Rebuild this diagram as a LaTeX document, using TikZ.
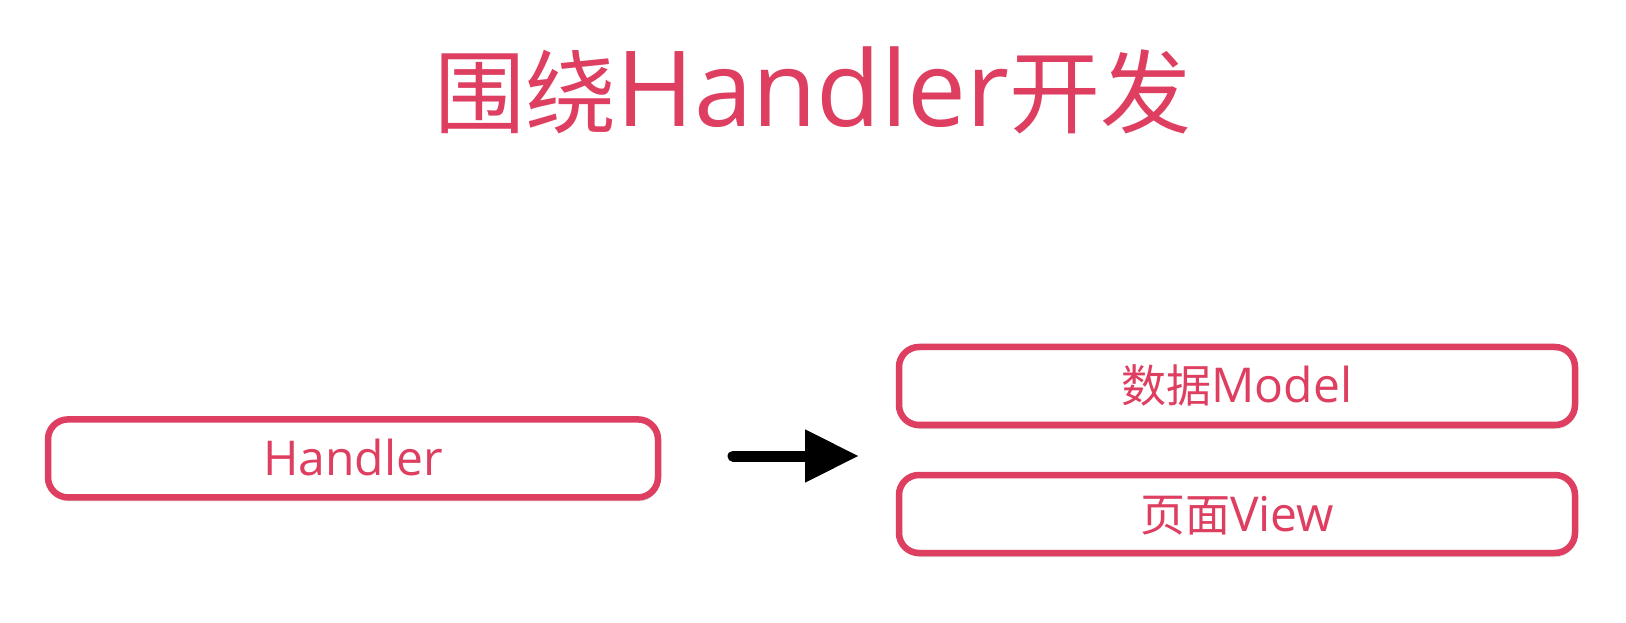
\documentclass[tikz,border=0pt]{standalone}
\usepackage{fontspec}
\setmainfont{Open Sans}
\newfontfamily\cjk{Noto Sans CJK SC}
\usetikzlibrary{arrows.meta,shadows}
\definecolor{accent}{RGB}{222,62,96}
\begin{document}
\begin{tikzpicture}[x=1pt,y=1pt,
  pill/.style={draw=accent, line width=6.5pt, fill=white, rounded corners=20pt,
    text=accent, inner sep=0pt, text height=34pt, text depth=0pt,
    font=\fontsize{48}{48}\selectfont,
    drop shadow={opacity=0.25, shadow xshift=1pt, shadow yshift=-4pt}},
  titletext/.style={text=accent, inner sep=0pt, anchor=base},
  bigarrow/.style={line width=11pt, line cap=round, draw=black,
    -{Triangle[length=54pt,width=50pt]}}]
\useasboundingbox[fill=white] (0,0) rectangle (1626,622);
\node[titletext] (title) at (813,495.5)
  {\fontsize{105}{105}\selectfont{\cjk\fontsize{91}{91}\selectfont 围绕}Handler{\cjk\fontsize{91}{91}\selectfont 开发}};
\node[pill, minimum width=610pt, minimum height=78pt] (handler) at (353,163.6) {Handler};
\node[pill, minimum width=676pt, minimum height=78pt] (model) at (1237,236)
  {{\cjk\fontsize{45}{45}\selectfont 数据}Model};
\node[pill, minimum width=676pt, minimum height=78pt] (view) at (1237,108)
  {{\cjk\fontsize{45}{45}\selectfont 页面}View};
\coordinate (a0) at (733,166);
\coordinate (a1) at (859,166);
\draw[bigarrow] (a0) -- (a1);
\end{tikzpicture}
\end{document}
